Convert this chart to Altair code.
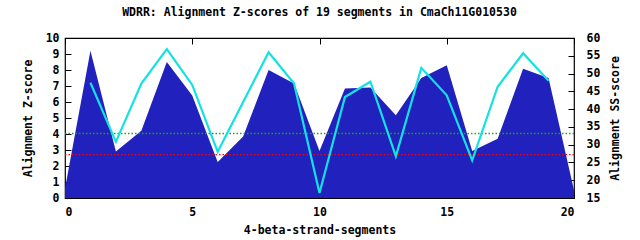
import altair as alt
import pandas as pd

title_text = "WDRR: Alignment Z-scores of 19 segments in CmaCh11G010530"
segments = list(range(0, 21))
z_scores = [0.6, 9.2, 2.9, 4.2, 8.5, 6.4, 2.25, 3.85, 8.0, 7.15, 2.94,
            6.85, 6.9, 5.17, 7.5, 8.3, 2.94, 3.7, 8.08, 7.5, 0.48]
ss_segments = list(range(1, 20))
ss_scores = [47.4, 30.8, 47.2, 56.9, 46.8, 28.0, 42.0, 56.0, 47.2, 16.4,
             43.4, 47.7, 26.7, 51.6, 43.9, 25.6, 46.3, 55.7, 48.0]
green_level = 4.03
red_level = 2.71
x_ticks = [0, 5, 10, 15, 20]
z_ticks = list(range(0, 11))
ss_ticks = list(range(15, 61, 5))

FONT = "DejaVu Sans Mono"
FS = 11.5

df_z = pd.DataFrame({"seg": segments, "z": z_scores})
df_ss = pd.DataFrame({"seg": ss_segments, "ss": ss_scores})

x_dom = alt.Scale(domain=[0, 20], nice=False, zero=False)

area = alt.Chart(df_z).mark_area(color="#2121BE", opacity=1).encode(
    x=alt.X("seg:Q", scale=x_dom,
            axis=alt.Axis(values=x_ticks, orient="bottom", offset=-6, tickSize=6,
                          domain=False, grid=False, labelPadding=8, format="d",
                          title="4-beta-strand-segments", titlePadding=7)),
    y=alt.Y("z:Q", scale=alt.Scale(domain=[0, 10], nice=False),
            axis=alt.Axis(values=z_ticks, orient="left", offset=-6, tickSize=6,
                          domain=False, grid=False, labelPadding=6, format="d",
                          title="Alignment Z-score", titlePadding=12)),
)

rule_g = alt.Chart(pd.DataFrame({"v": [green_level]})).mark_rule(
    color="#22A022", strokeDash=[1.5, 2], strokeWidth=1.3
).encode(y=alt.Y("v:Q", scale=alt.Scale(domain=[0, 10], nice=False), axis=None))

rule_r = alt.Chart(pd.DataFrame({"v": [red_level]})).mark_rule(
    color="#FF0000", strokeDash=[1.5, 2], strokeWidth=1.3
).encode(y=alt.Y("v:Q", scale=alt.Scale(domain=[0, 10], nice=False), axis=None))

line = alt.Chart(df_ss).mark_line(color="#12E2E2", strokeWidth=2.2).encode(
    x=alt.X("seg:Q", scale=x_dom,
            axis=alt.Axis(values=x_ticks, orient="top", offset=-6, tickSize=6,
                          domain=False, grid=False, labels=False, title=None)),
    y=alt.Y("ss:Q", scale=alt.Scale(domain=[15, 60], nice=False, zero=False),
            axis=alt.Axis(values=ss_ticks, orient="right", offset=-6, tickSize=6,
                          domain=False, grid=False, labelPadding=12, format="d",
                          title="Alignment SS-score", titlePadding=21,
                          titleAngle=270)),
)

chart = alt.layer(area, rule_g, rule_r, line).resolve_scale(
    y="independent"
).resolve_axis(x="independent", y="independent").properties(
    width=509, height=160,
    title=alt.TitleParams(title_text, anchor="middle", font=FONT, fontSize=FS,
                          fontWeight="bold", offset=14, color="black"),
    autosize=alt.AutoSizeParams(type="none"),
    padding={"left": 65, "top": 38, "right": 66, "bottom": 42},
    background="white",
).configure_view(stroke="black", strokeWidth=1.2).configure_axis(
    labelFont=FONT, labelFontSize=FS, labelFontWeight="bold", labelColor="black",
    titleFont=FONT, titleFontSize=FS, titleFontWeight="bold", titleColor="black",
    tickColor="black", tickWidth=1,
)

chart.save("out.html", embed_options={"renderer": "svg", "actions": False})
